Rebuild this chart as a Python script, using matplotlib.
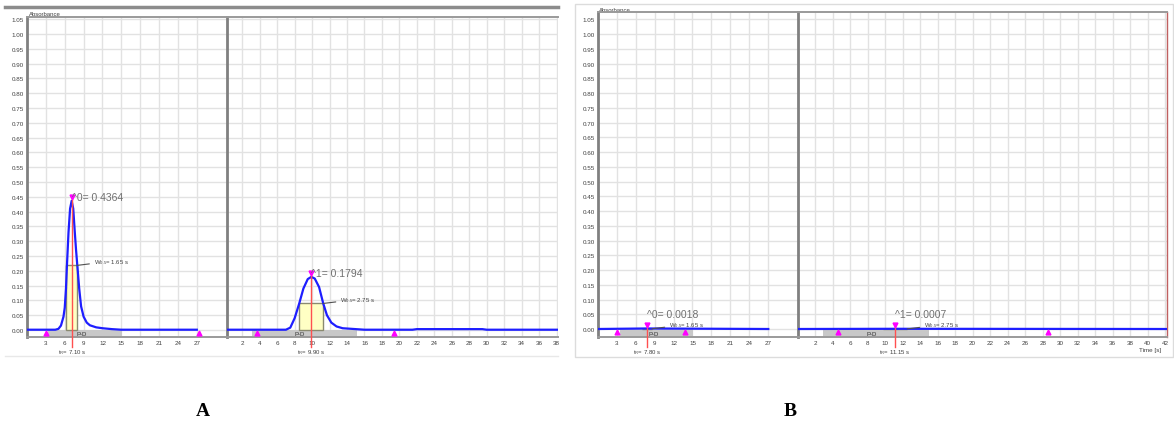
import matplotlib
matplotlib.use("Agg")
import matplotlib.pyplot as plt
from matplotlib.patches import Rectangle
import numpy as np

plt.rcParams["font.family"] = ["Liberation Sans", "DejaVu Sans"]
plt.rcParams["mathtext.default"] = "regular"

W, H = 1174, 427

# ---- data ----
# panel A, peak 0 (first injection)
a0_time = [0.0, 4.5, 5.0, 5.4, 5.8, 6.0, 6.2, 6.35, 6.6, 6.85, 7.1, 7.35, 7.6, 7.8,
           8.0, 8.3, 8.6, 9.0, 9.5, 10.0, 11.0, 12.0, 13.5, 15.0, 27.0]
a0_abs = [0.001, 0.001, 0.004, 0.015, 0.045, 0.075, 0.14, 0.218, 0.33, 0.41, 0.4364, 0.41,
          0.33, 0.27, 0.218, 0.14, 0.08, 0.045, 0.025, 0.016, 0.009, 0.006, 0.003, 0.001, 0.001]
# panel A, peak 1
a1_time = [0.0, 7.0, 7.5, 8.0, 8.525, 9.0, 9.5, 9.9, 10.3, 10.8, 11.275, 11.7, 12.2,
           12.8, 13.5, 15.0, 16.0, 21.5, 22.0, 29.5, 30.0, 38.2]
a1_abs = [0.001, 0.001, 0.008, 0.04, 0.0897, 0.14, 0.172, 0.1794, 0.174, 0.145, 0.0897,
          0.05, 0.025, 0.012, 0.006, 0.003, 0.001, 0.001, 0.003, 0.003, 0.001, 0.001]
# panel B, peaks 0 and 1 (almost flat)
b0_time = [0.0, 7.8, 27.0]
b0_abs = [0.0, 0.0018, 0.0]
b1_time = [0.0, 11.15, 42.3]
b1_abs = [0.0, 0.0007, 0.0]

peak_tr = [7.10, 9.90, 7.80, 11.15]
peak_height = [0.4364, 0.1794, 0.0018, 0.0007]
peak_w05 = [1.65, 2.75, 1.65, 2.75]
window_start = [3.4, 3.1, 3.5, 2.9]
window_end = [15.1, 15.1, 15.1, 15.0]
marker_start = [3.0, 3.65, 3.0, 4.6]
marker_end = [27.4, 19.4, 13.8, 28.6]

ticks_first = [3, 6, 9, 12, 15, 18, 21, 24, 27]
ticks_a_second = [2, 4, 6, 8, 10, 12, 14, 16, 18, 20, 22, 24, 26, 28, 30, 32, 34, 36, 38]
ticks_b_second = [2, 4, 6, 8, 10, 12, 14, 16, 18, 20, 22, 24, 26, 28, 30, 32, 34, 36, 38, 40, 42]
y_ticks = np.round(np.arange(0, 1.051, 0.05), 2)

BLUE = "#1e1eff"
MAGENTA = "#ff00ff"
RED = "#ff5050"
TXT = "#404040"


def box(x0, y0, x1, y1):
    return [x0 / W, 1 - y1 / H, (x1 - x0) / W, (y1 - y0) / H]


fig = plt.figure(figsize=(W / 100, H / 100), dpi=100)
fig.patch.set_facecolor("white")

# background layer in pixel coordinates for frames and loose labels
bg = fig.add_axes([0, 0, 1, 1], zorder=-5)
bg.set_xlim(0, W)
bg.set_ylim(H, 0)
bg.axis("off")
bg.plot([5, 558], [8, 8], color="#8c8c8c", lw=2.5)
bg.plot([5, 558], [357, 357], color="#e8e8e8", lw=1)
bg.add_patch(Rectangle((575, 5), 598, 353, fill=False, ec="#dcdcdc", lw=1))
bg.text(29, 14.5, "Absorbance", fontsize=4.3, color=TXT, va="center")
bg.text(599, 10, "Absorbance", fontsize=4.3, color=TXT, va="center")
bg.text(1150, 351, "Time [s]", fontsize=4.5, color=TXT, ha="center", va="center")
bg.text(203, 412, "A", fontsize=14, fontweight="bold", family="Liberation Serif", ha="center", va="center")
bg.text(790, 412, "B", fontsize=14, fontweight="bold", family="Liberation Serif", ha="center", va="center")


def draw_sub(ax, idx, k, t, a, ticks, xlim, ylim, first):
    tr, h, w05 = peak_tr[k], peak_height[k], peak_w05[k]
    ax.set_xlim(*xlim)
    ax.set_ylim(*ylim)
    ax.set_xticks(ticks)
    ax.set_yticks(y_ticks)
    ax.set_yticklabels([f"{v:.2f}" for v in y_ticks])
    ax.grid(color="#e2e2e2", lw=1)
    ax.set_axisbelow(True)
    ax.tick_params(length=0, labelsize=4.5, pad=2.5, colors=TXT, labelleft=first)
    for s in ["top", "bottom"]:
        ax.spines[s].set_color("#9a9a9a")
        ax.spines[s].set_linewidth(1.4)
    ax.spines["left"].set_color("#808080")
    ax.spines["left"].set_linewidth(2)
    ax.spines["right"].set_visible(False)

    # integration window bar
    ax.fill_between([window_start[k], window_end[k]], ylim[0], 0, color="#c8c8c8", lw=0, zorder=2)
    ax.text((window_start[k] + window_end[k]) / 2 - 0.5, ylim[0] / 2, "P-D", fontsize=4.3,
            color="#303030", ha="center", va="center", zorder=3)
    # half-height width box
    ax.add_patch(Rectangle((tr - w05 / 2, 0), w05, h / 2, fc="#ffffc4", ec="#8a8a70", lw=1, zorder=3))
    ax.plot(t, a, color=BLUE, lw=1.6, zorder=4)

    mark_y = h + 0.013
    ax.plot([tr, tr], [ylim[0] - 0.035, mark_y], color=RED, lw=1, zorder=5, clip_on=False)
    ax.plot([tr], [mark_y], "v", color=MAGENTA, ms=3.5, zorder=6, clip_on=False)
    ax.plot([marker_start[k], marker_end[k]], [-0.009, -0.009], "^", color=MAGENTA, ms=3.5,
            zorder=6, clip_on=False)

    text_y = mark_y + (0.036 if h < 0.05 else 0.0)
    ax.text(tr, text_y, f"^{idx}= {h:.4f}", fontsize=7.5, color="#707070", ha="left", va="center", zorder=7)
    ax.annotate(f"W$_{{0.5}}$= {w05:.2f} s", xy=(tr + w05 / 2, h / 2), xytext=(12, 3),
                textcoords="offset points", fontsize=4.3, color=TXT, ha="left", va="center", zorder=7,
                arrowprops=dict(arrowstyle="-", color="#505050", lw=0.8, shrinkA=1, shrinkB=0))
    ax.text(tr, ylim[0] - 0.05, f"t$_R$= {tr:.2f} s", fontsize=4.3, color=TXT, ha="center",
            va="center", clip_on=False)


ylim_a = (-0.0236, 1.0574)
ylim_b = (-0.0271, 1.0746)

ax_a0 = fig.add_axes(box(27, 18, 227, 338))
draw_sub(ax_a0, 0, 0, a0_time, a0_abs, ticks_first, (0, 31.8), ylim_a, True)
ax_a1 = fig.add_axes(box(227, 18, 558, 338))
draw_sub(ax_a1, 1, 1, a1_time, a1_abs, ticks_a_second, (0.25, 38.17), ylim_a, False)

ax_b0 = fig.add_axes(box(598, 13, 798, 338))
draw_sub(ax_b0, 0, 2, b0_time, b0_abs, ticks_first, (0.05, 31.7), ylim_b, True)
ax_b1 = fig.add_axes(box(798, 13, 1167, 338))
draw_sub(ax_b1, 1, 3, b1_time, b1_abs, ticks_b_second, (0.06, 42.2), ylim_b, False)
ax_b1.spines["right"].set_visible(True)
ax_b1.spines["right"].set_color("#c06060")
ax_b1.spines["right"].set_linewidth(1)

fig.savefig("out.png", dpi=100, facecolor="white")
